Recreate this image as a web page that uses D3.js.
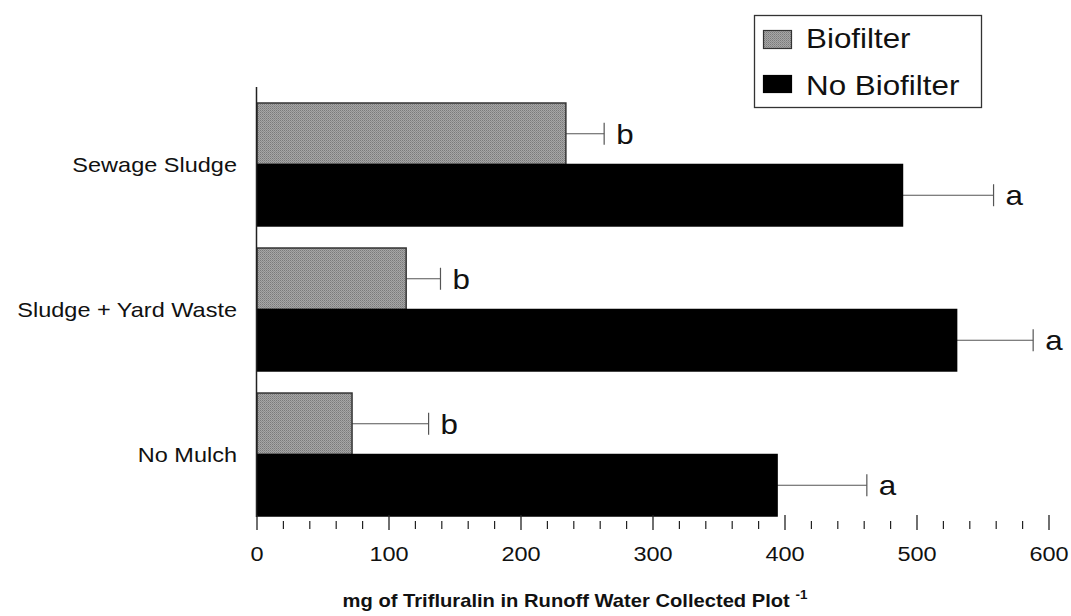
<!DOCTYPE html>
<html>
<head>
<meta charset="utf-8">
<script src="https://cdn.jsdelivr.net/npm/d3@7"></script>
<style>
 body { margin:0; background:#fff; }
 text { font-family: "Liberation Sans", Arial, sans-serif; }
</style>
</head>
<body>
<div id="chart"></div>
<script>
 // data
 var categories = ["Sewage Sludge", "Sludge + Yard Waste", "No Mulch"];
 var series = ["Biofilter", "No Biofilter"];
 var biofilter = [234, 113, 72];
 var biofilterErr = [29, 26, 58];
 var noBiofilter = [489, 530, 394];
 var noBiofilterErr = [69, 58, 68];
 var bioLetters = ["b", "b", "b"];
 var noBioLetters = ["a", "a", "a"];
 var xTicks = [0, 100, 200, 300, 400, 500, 600];

 var W = 1071, H = 616;
 var sx = 1.12; // the original lettering is a bit wide
 var svg = d3.select("#chart").append("svg")
     .attr("width", W).attr("height", H);

 // place a text at (x,y) stretched horizontally
 function at(x, y) { return "translate(" + x + "," + y + ") scale(" + sx + ",1)"; }

 // grey dotted fill for biofilter bars
 var pat = svg.append("defs").append("pattern")
     .attr("id", "dots").attr("patternUnits", "userSpaceOnUse")
     .attr("width", 2).attr("height", 2);
 pat.append("rect").attr("width", 2).attr("height", 2).attr("fill", "#a6a6a6");
 pat.append("rect").attr("width", 1).attr("height", 1).attr("fill", "#7a7a7a");
 pat.append("rect").attr("x", 1).attr("y", 1).attr("width", 1).attr("height", 1).attr("fill", "#8c8c8c");

 var x = d3.scaleLinear().domain([0, 600]).range([257, 1049]);
 var y = d3.scaleBand().domain(categories).range([103, 516])
     .paddingInner(0.152).paddingOuter(0);
 var sub = d3.scaleBand().domain(series).range([0, y.bandwidth()]);

 var flat = [];
 categories.forEach(function(c, i) {
     flat.push({cat:c, s:series[0], v:biofilter[i], e:biofilterErr[i], l:bioLetters[i]});
     flat.push({cat:c, s:series[1], v:noBiofilter[i], e:noBiofilterErr[i], l:noBioLetters[i]});
 });
 function mid(d) { return y(d.cat) + sub(d.s) + sub.bandwidth()/2; }

 // error bars (drawn first so the bar covers the start)
 var eb = svg.append("g").attr("stroke", "#555").attr("stroke-width", 1.2);
 eb.selectAll("line.err").data(flat).enter().append("line")
     .attr("x1", function(d){ return x(d.v); })
     .attr("x2", function(d){ return x(d.v + d.e); })
     .attr("y1", mid).attr("y2", mid);
 eb.selectAll("line.cap").data(flat).enter().append("line")
     .attr("x1", function(d){ return x(d.v + d.e); })
     .attr("x2", function(d){ return x(d.v + d.e); })
     .attr("y1", function(d){ return mid(d) - 11; })
     .attr("y2", function(d){ return mid(d) + 11; });

 svg.selectAll("rect.bar").data(flat).enter().append("rect")
     .attr("class", "bar")
     .attr("x", x(0))
     .attr("y", function(d){ return y(d.cat) + sub(d.s); })
     .attr("width", function(d){ return x(d.v) - x(0); })
     .attr("height", sub.bandwidth())
     .attr("fill", function(d){ return d.s == "Biofilter" ? "url(#dots)" : "#000"; })
     .attr("stroke", function(d){ return d.s == "Biofilter" ? "#333" : "#000"; })
     .attr("stroke-width", 1.5);

 svg.selectAll("text.letter").data(flat).enter().append("text")
     .attr("transform", function(d){ return at(x(d.v + d.e) + 12, mid(d)); })
     .attr("dominant-baseline", "central")
     .attr("font-size", 28)
     .attr("fill", "#111")
     .text(function(d){ return d.l; });

 // y axis line
 svg.append("line").attr("x1", 256.5).attr("x2", 256.5)
     .attr("y1", 87).attr("y2", 517)
     .attr("stroke", "#222").attr("stroke-width", 1.5);

 // category labels
 svg.selectAll("text.cat").data(categories).enter().append("text")
     .attr("transform", function(d){ return at(237, y(d) + y.bandwidth()/2); })
     .attr("text-anchor", "end")
     .attr("dominant-baseline", "central")
     .attr("font-size", 21)
     .attr("fill", "#111")
     .text(function(d){ return d; });

 // x ticks: majors every 100, minors every 20
 var minors = d3.range(0, 601, 20).filter(function(v){ return v % 100 != 0; });
 svg.selectAll("line.minor").data(minors).enter().append("line")
     .attr("x1", function(d){ return x(d); }).attr("x2", function(d){ return x(d); })
     .attr("y1", 521).attr("y2", 529)
     .attr("stroke", "#222").attr("stroke-width", 1.2);
 svg.selectAll("line.major").data(xTicks).enter().append("line")
     .attr("x1", function(d){ return x(d); }).attr("x2", function(d){ return x(d); })
     .attr("y1", 515).attr("y2", 530)
     .attr("stroke", "#222").attr("stroke-width", 1.3);
 svg.selectAll("text.tick").data(xTicks).enter().append("text")
     .attr("transform", function(d){ return at(x(d), 554); })
     .attr("text-anchor", "middle")
     .attr("dominant-baseline", "central")
     .attr("font-size", 21)
     .attr("fill", "#111")
     .text(function(d){ return d; });

 // axis title
 var t = svg.append("text")
     .attr("transform", at(575, 607))
     .attr("text-anchor", "middle")
     .attr("font-size", 18).attr("font-weight", "bold")
     .attr("fill", "#111");
 t.append("tspan").text("mg of Trifluralin in Runoff Water Collected Plot ");
 t.append("tspan").attr("font-size", 12).attr("dy", -8).text("-1");

 // legend
 var lg = svg.append("g");
 lg.append("rect").attr("x", 754.5).attr("y", 15.5).attr("width", 227).attr("height", 92)
     .attr("fill", "#fff").attr("stroke", "#333").attr("stroke-width", 1.3);
 lg.selectAll("rect.sw").data(series).enter().append("rect")
     .attr("x", 763.5).attr("y", function(d, i){ return i == 0 ? 30.5 : 75.5; })
     .attr("width", 28).attr("height", function(d, i){ return i == 0 ? 18 : 17; })
     .attr("fill", function(d, i){ return i == 0 ? "url(#dots)" : "#000"; })
     .attr("stroke", function(d, i){ return i == 0 ? "#333" : "#000"; })
     .attr("stroke-width", 1.2);
 lg.selectAll("text.lt").data(series).enter().append("text")
     .attr("transform", function(d, i){ return at(806, i == 0 ? 48 : 95); })
     .attr("font-size", 28)
     .attr("fill", "#111")
     .text(function(d){ return d; });
</script>
</body>
</html>
